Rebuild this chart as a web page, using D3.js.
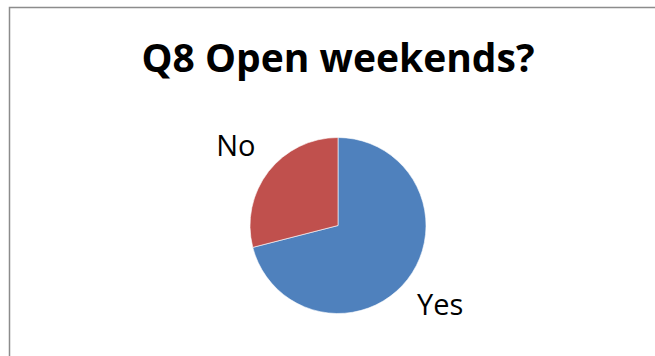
<!DOCTYPE html>
<html>
<head>
<meta charset="utf-8">
<script src="https://cdn.jsdelivr.net/npm/d3@7"></script>
<style>
  html, body { margin: 0; padding: 0; background: #fff; }
  svg { display: block; }
</style>
</head>
<body>
<svg id="chart" width="655" height="356"></svg>
<script>
// Survey answers for Q8
const answers = ["Yes", "No"];
const shares = [71, 29];
const sliceColors = ["#4F81BD", "#C0504D"];
const chartTitle = "Q8 Open weekends?";

const width = 655, height = 356;
const svg = d3.select("#chart");

// chart frame (top and left edges)
svg.append("path")
  .attr("d", `M9.5,${height} V7.5 H${width}`)
  .attr("fill", "none")
  .attr("stroke", "#8c8c8c")
  .attr("stroke-width", 1.5);

svg.append("text")
  .attr("x", 338)
  .attr("y", 72)
  .attr("text-anchor", "middle")
  .attr("font-family", "'Open Sans', sans-serif")
  .attr("font-weight", "bold")
  .attr("font-size", 39)
  .attr("fill", "#000")
  .text(chartTitle);

const cx = 338, cy = 225.5, r = 88;

const color = d3.scaleOrdinal().domain(answers).range(sliceColors);
const pie = d3.pie().sort(null).value(d => d.value);
const arc = d3.arc().innerRadius(0).outerRadius(r);
const labelArc = d3.arc().innerRadius(r * 1.47).outerRadius(r * 1.47);

const data = answers.map((a, i) => ({ name: a, value: shares[i] }));
const arcs = pie(data);

const g = svg.append("g").attr("transform", `translate(${cx},${cy})`);

g.selectAll("path.slice")
  .data(arcs)
  .join("path")
  .attr("class", "slice")
  .attr("d", arc)
  .attr("fill", d => color(d.data.name))
  .attr("stroke", "#ffffff")
  .attr("stroke-width", 0.6);

g.selectAll("text.label")
  .data(arcs)
  .join("text")
  .attr("class", "label")
  .attr("transform", d => `translate(${labelArc.centroid(d)})`)
  .attr("text-anchor", "middle")
  .attr("dy", "0.35em")
  .attr("font-family", "'Open Sans', sans-serif")
  .attr("font-size", 29)
  .attr("fill", "#000")
  .text(d => d.data.name);
</script>
</body>
</html>
